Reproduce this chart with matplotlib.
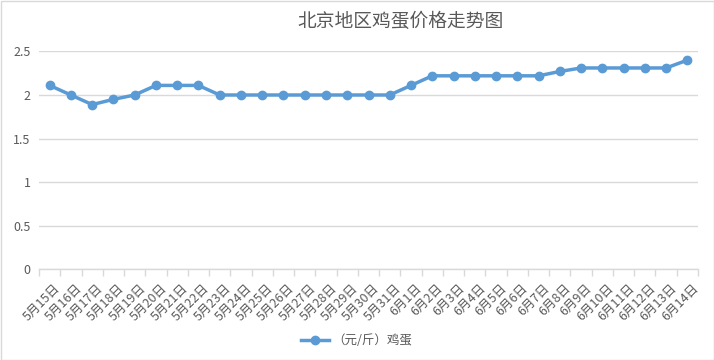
import matplotlib
matplotlib.use("Agg")
import matplotlib.pyplot as plt
from matplotlib.patches import Rectangle
from matplotlib.lines import Line2D

plt.rcParams['font.family'] = ['Noto Sans CJK SC', 'DejaVu Sans']

dates = ["5月15日", "5月16日", "5月17日", "5月18日", "5月19日", "5月20日", "5月21日",
         "5月22日", "5月23日", "5月24日", "5月25日", "5月26日", "5月27日", "5月28日",
         "5月29日", "5月30日", "5月31日", "6月1日", "6月2日", "6月3日", "6月4日",
         "6月5日", "6月6日", "6月7日", "6月8日", "6月9日", "6月10日", "6月11日",
         "6月12日", "6月13日", "6月14日"]
prices = [2.11, 2.00, 1.89, 1.95, 2.00, 2.11, 2.11, 2.11, 2.00, 2.00, 2.00, 2.00,
          2.00, 2.00, 2.00, 2.00, 2.00, 2.11, 2.22, 2.22, 2.22, 2.22, 2.22, 2.22,
          2.27, 2.31, 2.31, 2.31, 2.31, 2.31, 2.40]
yticks = [0, 0.5, 1, 1.5, 2, 2.5]
ytick_labels = ["0", "0.5", "1", "1.5", "2", "2.5"]
title = "北京地区鸡蛋价格走势图"
series_name = "（元/斤）鸡蛋"

W, H = 714, 360
fig = plt.figure(figsize=(W / 100, H / 100), dpi=100)
ax = fig.add_axes([39 / W, 1 - 269.4 / H, (698 - 39) / W, (269.4 - 51.4) / H])

color = "#5b9bd5"
text_color = "#595959"
grid_color = "#d9d9d9"

x = list(range(len(dates)))
ax.plot(x, prices, color=color, linewidth=2.5, marker='o', markersize=6,
        solid_joinstyle='round', zorder=3)

ax.set_xlim(-0.5, len(dates) - 0.5)
ax.set_ylim(0, 2.5)
ax.set_yticks(yticks)
ax.set_yticklabels(ytick_labels)
ax.yaxis.grid(True, color=grid_color, linewidth=1)
ax.set_axisbelow(True)

ax.set_xticks(x)
ax.set_xticklabels(dates, rotation=45, ha='right', rotation_mode='anchor')
ax.set_xticks([i - 0.5 for i in range(len(dates) + 1)], minor=True)
ax.tick_params(axis='x', which='major', length=0, pad=9, labelsize=9, colors=text_color)
ax.tick_params(axis='x', which='minor', length=5, color=grid_color, width=1)
ax.tick_params(axis='y', length=0, pad=6, labelsize=9, colors=text_color)
for lbl in ax.get_xticklabels():
    lbl.set_transform(lbl.get_transform() + matplotlib.transforms.ScaledTranslation(3 / 72, 0, fig.dpi_scale_trans))

for s in ['top', 'right', 'left']:
    ax.spines[s].set_visible(False)
ax.spines['bottom'].set_color(grid_color)
ax.spines['bottom'].set_linewidth(1)

fig.text(401 / W, 1 - 21.7 / H, title, ha='center', va='center', fontsize=13.5, color=text_color)

handle = Line2D([], [], color=color, linewidth=2.5, marker='o', markersize=6)
fig.legend([handle], [series_name], loc='center', bbox_to_anchor=(0.5, 1 - 340.7 / H),
           frameon=False, fontsize=9, labelcolor=text_color, handlelength=2.2, handletextpad=0.3)

fig.patches.append(Rectangle((0.5 / W, 0.5 / H), 1 - 1 / W, 1 - 1 / H, transform=fig.transFigure,
                             fill=False, edgecolor=grid_color, linewidth=1))

fig.savefig("out.png", dpi=100)
